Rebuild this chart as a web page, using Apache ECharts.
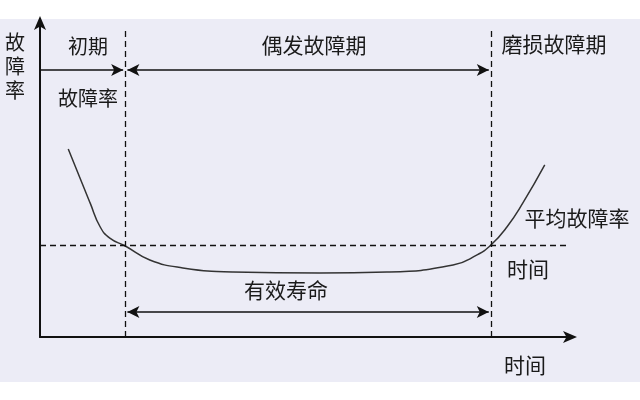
<!DOCTYPE html>
<html><head><meta charset="utf-8">
<script src="https://cdn.jsdelivr.net/npm/echarts@6/dist/echarts.min.js"></script>
<style>html,body{margin:0;padding:0;background:#fff}#c{width:640px;height:400px}</style>
</head><body><div id="c"></div>
<script>
// Bathtub curve data (time, failure rate) in arbitrary units
const curveX = [5.3, 9.4, 11.3, 13.1, 16, 20.6, 26.8, 36.2, 52.5, 65.1, 77.5, 82, 84.6, 87.6, 90.6, 94.7];
const curveY = [59.3, 42.3, 34.7, 31.2, 28.7, 24.3, 21.8, 20.5, 20.2, 20.5, 22.7, 25.9, 29, 34.7, 42.3, 54.3];
// Phase boundaries and reference levels
const earlyEnd = 16;
const wearStart = 84.6;
const avgRate = 29;
const dashTop = 96.8;
const dashRight = 99.4;
const phaseArrowY = 84.2;
const lifeArrowY = 7.9;
const phaseArrowRight = 100.8;

const font = '"Noto Sans CJK SC", sans-serif';
const chart = echarts.init(document.getElementById('c'));
const lineBlack = {color: '#111', width: 1.5, type: 'solid'};
const dashStyle = {color: '#111', width: 1.3, type: [6, 4]};
function txt(t, x, y, size) {
  return {type: 'text', x: x, y: y, style: {text: t, font: (size || 20) + 'px ' + font, fill: '#1a1a1a', align: 'center', verticalAlign: 'middle', lineHeight: 24}};
}
chart.setOption({
  animation: false,
  backgroundColor: '#fff',
  grid: {left: 40, right: 67, top: 20, bottom: 63},
  xAxis: {type: 'value', min: 0, max: 100, axisLabel: {show: false}, axisTick: {show: false}, splitLine: {show: false},
    axisLine: {lineStyle: {color: '#111', width: 2}, symbol: ['none', 'arrow'], symbolSize: [9, 14], symbolOffset: [0, 4]}},
  yAxis: {type: 'value', min: 0, max: 100, axisLabel: {show: false}, axisTick: {show: false}, splitLine: {show: false},
    axisLine: {lineStyle: {color: '#111', width: 2}, symbol: ['none', 'arrow'], symbolSize: [9, 14], symbolOffset: [0, 4]}},
  graphic: [
    {type: 'rect', z: -10, shape: {x: 0, y: 19, width: 640, height: 363}, style: {fill: '#ececf6'}},
    txt('故\n障\n率', 15, 66, 20),
    txt('初期', 88, 46, 20),
    txt('偶发故障期', 314, 45, 21),
    txt('磨损故障期', 554, 44, 21),
    txt('故障率', 88, 98, 20),
    txt('平均故障率', 577, 218, 21),
    txt('时间', 528, 269, 21),
    txt('有效寿命', 286, 290, 21),
    txt('时间', 525, 365, 21)
  ],
  series: [{
    type: 'line', smooth: 0.5, symbol: 'none', clip: false,
    data: curveX.map((x, i) => [x, curveY[i]]),
    lineStyle: {color: '#333', width: 1.5},
    markLine: {
      silent: true, symbol: 'none', label: {show: false},
      data: [
        [{coord: [0, avgRate], lineStyle: dashStyle}, {coord: [dashRight, avgRate]}],
        [{coord: [earlyEnd, 0], lineStyle: dashStyle}, {coord: [earlyEnd, dashTop]}],
        [{coord: [wearStart, 0], lineStyle: dashStyle}, {coord: [wearStart, dashTop]}],
        [{coord: [0, phaseArrowY], lineStyle: lineBlack, symbol: 'none'}, {coord: [earlyEnd - 0.4, phaseArrowY], symbol: 'arrow', symbolSize: [9, 12]}],
        [{coord: [earlyEnd + 0.4, phaseArrowY], lineStyle: lineBlack, symbol: 'arrow', symbolSize: [9, 12]}, {coord: [wearStart - 0.4, phaseArrowY], symbol: 'arrow', symbolSize: [9, 12]}],
        [{coord: [phaseArrowRight, phaseArrowY], lineStyle: lineBlack, symbol: 'none'}, {coord: [wearStart + 0.4, phaseArrowY], symbol: 'arrow', symbolSize: [9, 12]}],
        [{coord: [earlyEnd + 0.4, lifeArrowY], lineStyle: lineBlack, symbol: 'arrow', symbolSize: [9, 12]}, {coord: [wearStart - 0.4, lifeArrowY], symbol: 'arrow', symbolSize: [9, 12]}]
      ]
    }
  }]
});
</script></body></html>
